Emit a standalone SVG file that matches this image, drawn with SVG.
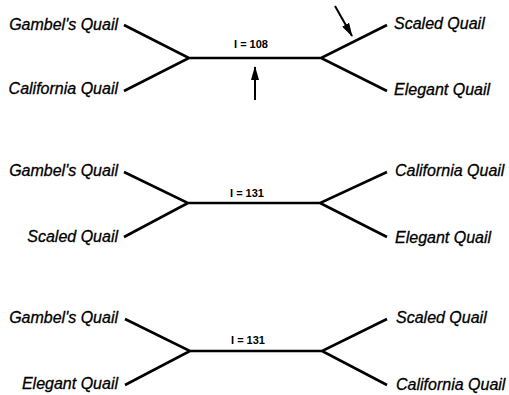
<svg xmlns="http://www.w3.org/2000/svg" width="509" height="395" viewBox="0 0 509 395">
  <style>
    .bg { fill: #ffffff; }
    .branch { fill: none; stroke: #000; stroke-width: 2.6; stroke-linecap: butt; stroke-linejoin: miter; }
    .taxon { font-family: "Liberation Sans", Arial, sans-serif; font-style: italic; font-size: 16px; fill: #000; stroke: #000; stroke-width: 0.3; }
    .len { font-family: "Liberation Sans", Arial, sans-serif; font-weight: bold; font-size: 11px; fill: #000; text-anchor: middle; }
    .pointer { stroke: #000; stroke-width: 2; fill: none; }
    .l { text-anchor: end; }
  </style>
  <defs>
    <marker id="head" viewBox="0 0 14 8" refX="13" refY="4" markerWidth="14" markerHeight="8" markerUnits="userSpaceOnUse" orient="auto">
      <path d="M0,0 L14,4 L0,8 z" fill="#000"/>
    </marker>
  </defs>
  <rect class="bg" x="0" y="0" width="509" height="395"/>

  <!-- connectors: three unrooted four-taxon trees and two pointers -->
  <g id="connectors">
    <path class="branch" d="M124,25 L189,58 L124,91 M189,58 L321,58 M387,25 L321,58 L387,91"/>
    <path class="branch" d="M124,172 L188,203 L124,237 M188,203 L320,203 M387,172 L320,203 L387,237"/>
    <path class="branch" d="M125,319 L190,351 L125,385 M190,351 L322,351 M387,319 L322,351 L387,385"/>
    <line class="pointer" x1="255" y1="100" x2="255" y2="67" marker-end="url(#head)"/>
    <line class="pointer" x1="335" y1="6" x2="352" y2="36" marker-end="url(#head)"/>
  </g>

  <!-- tree 1 -->
  <g id="tree1-gambel"><text class="taxon l" x="118" y="30">Gambel's Quail</text></g>
  <g id="tree1-california"><text class="taxon l" x="118" y="94">California Quail</text></g>
  <g id="tree1-scaled"><text class="taxon" x="394" y="29">Scaled Quail</text></g>
  <g id="tree1-elegant"><text class="taxon" x="394" y="95">Elegant Quail</text></g>
  <g id="tree1-length"><text class="len" x="251" y="48">I = 108</text></g>

  <!-- tree 2 -->
  <g id="tree2-gambel"><text class="taxon l" x="118" y="176">Gambel's Quail</text></g>
  <g id="tree2-scaled"><text class="taxon l" x="118" y="242">Scaled Quail</text></g>
  <g id="tree2-california"><text class="taxon" x="395" y="176">California Quail</text></g>
  <g id="tree2-elegant"><text class="taxon" x="395" y="243">Elegant Quail</text></g>
  <g id="tree2-length"><text class="len" x="247" y="197">I = 131</text></g>

  <!-- tree 3 -->
  <g id="tree3-gambel"><text class="taxon l" x="118" y="323">Gambel's Quail</text></g>
  <g id="tree3-elegant"><text class="taxon l" x="118" y="389">Elegant Quail</text></g>
  <g id="tree3-scaled"><text class="taxon" x="396" y="323">Scaled Quail</text></g>
  <g id="tree3-california"><text class="taxon" x="396" y="390">California Quail</text></g>
  <g id="tree3-length"><text class="len" x="248" y="344">I = 131</text></g>
</svg>
